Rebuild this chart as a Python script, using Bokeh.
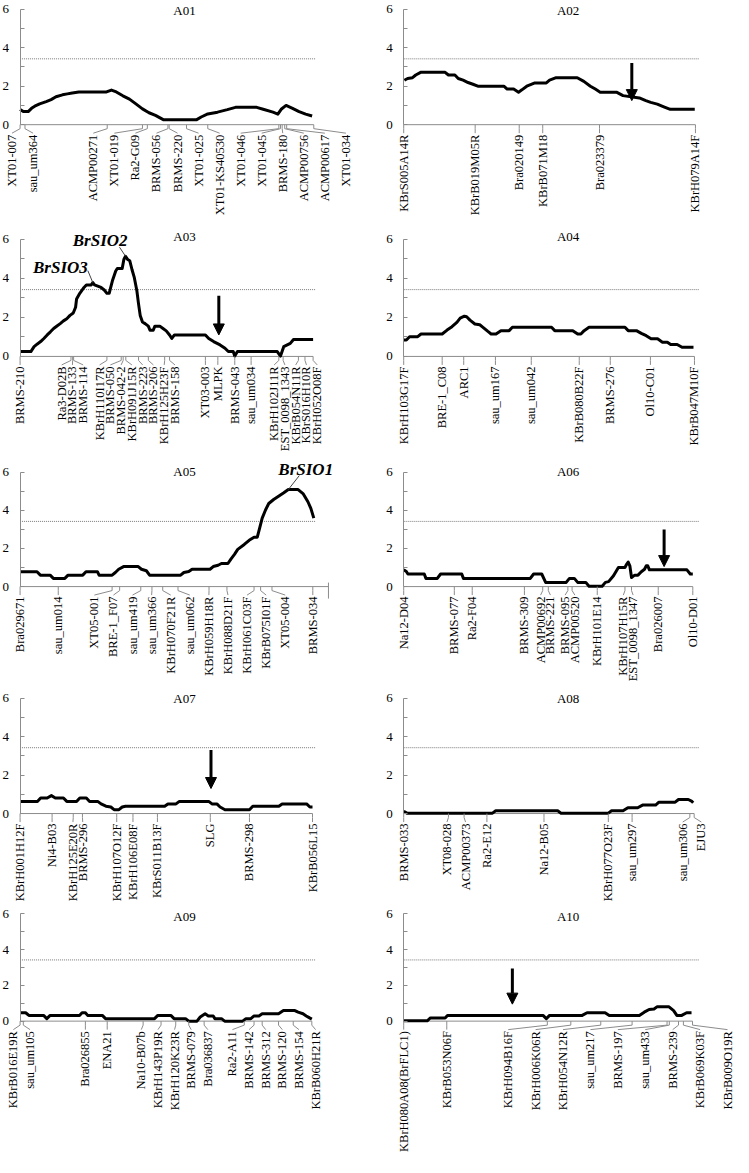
import math
import numpy as np
from bokeh.plotting import figure
from bokeh.layouts import gridplot
from bokeh.models import Range1d, LinearAxis, FixedTicker, Label, Arrow, NormalHead
from bokeh.core.properties import value
from bokeh.embed import file_html
from bokeh.resources import INLINE

# ---------------- data (positions in cM along each linkage group, LOD values) ----------------
chroms = ["A01", "A02", "A03", "A04", "A05", "A06", "A07", "A08", "A09", "A10"]
chr_len = [300, 298, 299.3, 297, 315, 295.3, 298.7, 296.7, 298, 295]
threshold = 3.42
threshold_end = 302

a01_pos = [0, 3.3, 8.3, 11.7, 15, 20, 26.7, 31.7, 36.7, 43.3, 48.3, 53.3, 60, 88.3, 93.3, 98.3, 105, 111.7, 118.3, 125,
           131.7, 138.3, 146.7, 180, 185, 191.7, 201.7, 211.7, 220, 241.7, 248.3, 258.3, 263.3, 266.7, 271.7, 278.3, 285,
           291.7, 298.3]
a01_lod = [0.79, 0.68, 0.68, 0.85, 0.96, 1.08, 1.2, 1.3, 1.45, 1.55, 1.6, 1.65, 1.7, 1.7, 1.8, 1.7, 1.5, 1.33, 1.08, 0.82,
           0.62, 0.48, 0.25, 0.25, 0.4, 0.56, 0.65, 0.78, 0.9, 0.9, 0.8, 0.65, 0.55, 0.8, 1.0, 0.85, 0.68,
           0.55, 0.45]
a01_markers = ["XT01-007", "sau_um364", "ACMP00271", "XT01-019", "Ra2-G09", "BRMS-056", "BRMS-220", "XT01-025",
               "XT01-KS40530", "XT01-046", "XT01-045", "BRMS-180", "ACMP00756", "ACMP00617", "XT01-034"]
a01_mpos = [0, 5, 89, 125, 130, 151, 152.3, 170, 191.7, 264.3, 266, 267.7, 270.3, 272.3, 300]

a02_pos = [0.7, 4, 9, 12.3, 17.3, 42.3, 45.7, 52.3, 55.7, 60.7, 65.7, 70.7, 75.7, 102.3, 105.7, 112.3, 117.3, 120.7,
           125.7, 134, 145.7, 149, 155.7, 177.3, 184, 190.7, 195.7, 200.7, 217.3, 224, 240.7, 247.3, 252.3, 259, 265.7,
           272.3, 297.3]
a02_lod = [2.31, 2.4, 2.44, 2.58, 2.72, 2.72, 2.58, 2.58, 2.4, 2.31, 2.19, 2.1, 2.0, 2.0, 1.85, 1.85, 1.69, 1.81,
           2.0, 2.17, 2.17, 2.31, 2.44, 2.44, 2.25, 2.0, 1.85, 1.69, 1.69, 1.51, 1.39, 1.25, 1.16, 1.07, 0.93,
           0.8, 0.8]
a02_markers = ["KBrS005A14R", "KBrB019M05R", "Bra020149", "KBrB071M18", "Bra023379", "KBrH079A14F"]
a02_mpos = [0, 73, 118, 142, 200, 298]

a03_pos = [0, 11, 14.3, 17.7, 21, 24.3, 27.7, 31, 34.3, 37.7, 41, 44.3, 47.7, 51, 54.3, 56.7, 57.7, 61, 65.3, 67.7,
           72.7, 74.3, 76, 82.7, 86, 88.7, 91, 94.3, 97.7, 99.3, 104.3, 106, 107.7, 110, 112, 114.3, 116.7, 119.3,
           121, 122.7, 125, 127.7, 131, 132.7, 136, 137.7, 142.7, 146, 149.3, 152.7, 155, 157.7, 189.3, 192.7, 197.7,
           204.3, 209.3, 212.7, 217.7, 219.3, 222, 262.7, 266, 269.3, 276, 279.3, 299.3]
a03_lod = [0.25, 0.25, 0.5, 0.64, 0.76, 0.92, 1.1, 1.26, 1.43, 1.56, 1.68, 1.82, 1.93, 2.1, 2.22, 2.52, 2.94, 3.23, 3.53,
           3.66, 3.66, 3.78, 3.66, 3.53, 3.4, 3.23, 3.23, 3.87, 4.37, 4.5, 4.5, 4.96, 5.13, 4.96, 4.9, 4.45, 4.03, 3.36,
           2.69, 2.1, 1.76, 1.68, 1.55, 1.34, 1.34, 1.55, 1.55, 1.43, 1.31, 1.1, 0.92, 1.1, 1.1, 0.92, 0.76,
           0.59, 0.42, 0.25, 0.25, 0.02, 0.25, 0.25, 0.02, 0.5, 0.67, 0.87, 0.87]
a03_markers = ["BRMS-210", "Ra3-D02B", "BRMS-133", "BRMS-114", "KBrH110I17R", "BRMS-050", "BRMS-042-2",
               "KBrH091J15R", "BRMS-223", "BRMS-206", "KBrH125H23F", "BRMS-158", "XT03-003", "MLPK", "BRMS-043",
               "sau_um034", "KBrH102J11R", "EST_0098_1343", "KBrB054N11R", "KBrS016H10R", "KBrH052O08F"]
a03_mpos = [0, 52, 53.7, 54.7, 88.7, 103.3, 105.3, 108, 121, 131, 147.7, 152.7, 189.3, 202, 219.3, 236, 264.3, 268.7,
            284.3, 291, 299.3]

a04_pos = [0, 2.7, 6, 14.3, 17.7, 39.3, 44.3, 49.3, 54.3, 57.7, 62, 64.3, 67.7, 72.7, 77.7, 81, 86, 89.3, 94.3, 99.3,
           107.7, 111, 151, 154.3, 172.7, 177.7, 181, 184.3, 189.3, 226, 229.3, 237.7, 242.7, 247.7, 252.7, 259.3,
           264.3, 269.3, 272.7, 279.3, 284.3, 296]
a04_lod = [0.84, 0.84, 1.01, 1.01, 1.15, 1.15, 1.35, 1.52, 1.74, 1.96, 2.06, 2.03, 1.86, 1.66, 1.62, 1.49, 1.28, 1.15,
           1.15, 1.32, 1.32, 1.49, 1.49, 1.32, 1.32, 1.15, 1.15, 1.32, 1.49, 1.49, 1.32, 1.32, 1.18, 1.06, 0.9, 0.9,
           0.73, 0.73, 0.61, 0.61, 0.47, 0.47]
a04_markers = ["KBrH103G17F", "BRE-1_C08", "ARC1", "sau_um167", "sau_um042", "KBrB080B22F", "BRMS-276", "Ol10-C01",
               "KBrB047M10F"]
a04_mpos = [0, 39.3, 61.3, 93.7, 130.3, 179.3, 211, 252, 297]

a05_pos = [0, 17.3, 20.7, 30.7, 34, 45.7, 49, 64, 67.3, 79, 80.7, 94, 97.3, 100.7, 105.7, 120.7, 124, 129, 132.3, 164,
           167.3, 172.3, 175.7, 194, 197.3, 202.3, 205.7, 212.3, 215.7, 219, 222.3, 229, 234, 239, 242.3, 244.7,
           247.3, 250.7, 254, 259, 264, 269, 274, 284, 289, 294, 297, 300]
a05_lod = [0.78, 0.78, 0.6, 0.6, 0.43, 0.43, 0.6, 0.6, 0.78, 0.78, 0.6, 0.6, 0.74, 0.91, 1.05, 1.05, 0.91, 0.83, 0.6, 0.6,
           0.74, 0.79, 0.91, 0.91, 1.05, 1.12, 1.21, 1.21, 1.47, 1.69, 1.95, 2.21, 2.43, 2.59, 2.59, 3.07,
           3.59, 4.02, 4.36, 4.57, 4.74, 4.91, 5.09, 5.09, 4.88, 4.45, 4.1, 3.59]
a05_markers = ["Bra029671", "sau_um014", "XT05-001", "BRE-1_F07", "sau_um419", "sau_um366", "KBrH070F21R",
               "sau_um062", "KBrH059H18R", "KBrH088D21F", "KBrH061C03F", "KBrB075I01F", "XT05-004", "BRMS-034"]
a05_mpos = [0, 39, 94, 101.7, 123.3, 134.7, 145.7, 161.3, 193, 211.3, 239, 245.7, 257.3, 299]

a06_pos = [0, 2.7, 4.3, 21, 22.7, 34.3, 37.7, 59.3, 61, 129.3, 132.7, 141, 145, 166, 169.3, 174.3, 177.7, 186, 189.3,
           202.7, 206, 209.3, 214.3, 219.3, 226, 227.7, 229.3, 231, 232.7, 236, 239.3, 242.7, 246, 247.7, 249.3, 251,
           289.3, 292.7, 295.3]
a06_lod = [0.88, 0.79, 0.66, 0.66, 0.43, 0.43, 0.66, 0.66, 0.43, 0.43, 0.66, 0.66, 0.22, 0.22, 0.43, 0.43, 0.22, 0.22,
           0.02, 0.02, 0.22, 0.26, 0.57, 1.0, 1.0, 1.17, 1.29, 1.09, 0.48, 0.6, 0.6, 0.78, 0.91, 1.09, 1.09, 0.88,
           0.88, 0.66, 0.66]
a06_markers = ["Na12-D04", "BRMS-077", "Ra2-F04", "BRMS-309", "ACMP00692", "BRMS-221", "BRMS-095", "ACMP00520",
               "KBrH101E14", "KBrH107H15R", "EST_0098_1347", "Bra026007", "Ol10-D01"]
a06_mpos = [0, 51.7, 70, 123.3, 142, 147.7, 167.7, 172, 197.7, 226, 232.7, 260, 295.3]

a07_pos = [0, 17.7, 21, 27.7, 32, 36, 44.3, 47.7, 57.7, 61, 67.7, 71, 79.3, 82.7, 87.7, 92.7, 96, 101, 104.3, 107.7,
           147.7, 151, 159.3, 162.7, 192.7, 196, 201, 204.3, 209.3, 234.3, 237.7, 264.3, 267.7, 292.7, 296, 298.7]
a07_lod = [0.63, 0.63, 0.81, 0.81, 0.93, 0.81, 0.81, 0.63, 0.63, 0.81, 0.81, 0.63, 0.63, 0.5, 0.38, 0.34, 0.2, 0.2,
           0.34, 0.38, 0.38, 0.5, 0.5, 0.63, 0.63, 0.5, 0.5, 0.34, 0.2, 0.2, 0.38, 0.38, 0.5, 0.5, 0.34, 0.34]
a07_markers = ["KBrH001H12F", "Ni4-B03", "KBrH125E20R", "BRMS-296", "KBrH107O12F", "KBrH106E08F", "KBrS011B13F",
               "SLG", "BRMS-298", "KBrB056L15"]
a07_mpos = [0, 32.7, 54.3, 63.7, 98.7, 115.3, 140.3, 194.3, 234.3, 298.7]

a08_pos = [0, 3.3, 90.7, 94, 157.3, 160.7, 209, 212.3, 224, 229, 239, 244, 257.3, 260.7, 277.3, 280.7, 290.7, 294,
           295.7]
a08_lod = [0.12, 0.02, 0.02, 0.14, 0.14, 0.02, 0.02, 0.14, 0.14, 0.3, 0.3, 0.44, 0.44, 0.59, 0.59, 0.73, 0.73, 0.65,
           0.56]
a08_markers = ["BRMS-033", "XT08-028", "ACMP00373", "Ra2-E12", "Na12-B05", "KBrH077O23F", "sau_um297", "sau_um306",
               "EJU3"]
a08_mpos = [0, 45.7, 61.7, 85, 143.3, 209, 233.3, 292.3, 296.7]

a09_pos = [0, 5.7, 9, 24, 27.3, 30.7, 60.7, 63.3, 66.7, 69, 84, 87.3, 137.3, 140.7, 154, 157.3, 169, 172.3, 180.7,
           184, 189, 192.3, 197.3, 199, 205.7, 209, 227.3, 230.7, 235.7, 239, 244, 247.3, 264, 269, 280.7, 284, 289,
           292.3, 295.7, 298]
a09_lod = [0.47, 0.47, 0.32, 0.32, 0.14, 0.32, 0.32, 0.47, 0.47, 0.32, 0.32, 0.14, 0.14, 0.32, 0.32, 0.14, 0.14, 0.0,
           0.0, 0.23, 0.41, 0.29, 0.29, 0.14, 0.14, 0.0, 0.0, 0.14, 0.14, 0.29, 0.29, 0.41, 0.41, 0.59, 0.59, 0.5,
           0.41, 0.29, 0.18, 0.11]
a09_markers = ["KBrB016E19R", "sau_um105", "Bra026855", "ENA21", "Na10-B07b", "KBrH143P19R", "KBrH120K23R",
               "BRMS-079", "Bra036837", "Ra2-A11", "BRMS-142", "BRMS-312", "BRMS-120", "BRMS-154", "KBrB060H21R"]
a09_mpos = [0, 3.3, 66.7, 89, 125.7, 144, 159, 172.3, 188, 229, 239, 247.3, 264, 279, 298]

a10_pos = [0, 24, 27.3, 42.3, 44.7, 142.3, 145.7, 149, 182.3, 187.3, 205.7, 210, 240.7, 245.7, 250.7, 255.7, 259,
           270.7, 275.7, 279, 284, 289, 294]
a10_lod = [0.02, 0.02, 0.18, 0.18, 0.32, 0.32, 0.14, 0.32, 0.32, 0.47, 0.47, 0.32, 0.32, 0.5, 0.65, 0.68, 0.81, 0.81,
           0.59, 0.32, 0.32, 0.47, 0.47]
a10_markers = ["KBrH080A08(BrFLC1)", "KBrB053N06F", "KBrH094B16F", "KBrH006K06R", "KBrH054N12R", "sau_um217",
               "BRMS-197", "sau_um433", "BRMS-239", "KBrB069K03F", "KBrB009O19R"]
a10_mpos = [0, 44, 146.7, 170.7, 201.3, 233.3, 269, 271.3, 280.7, 285.7, 295]

# candidate genes at LOD peaks
gene_chr = ["A03", "A03", "A05"]
gene_name = ["BrSIO3", "BrSIO2", "BrSIO1"]
gene_pos = [74.3, 107.7, 274]

# arrows (candidate positions)
arrow_chr = ["A02", "A03", "A06", "A07", "A10"]
arrow_pos = [233, 203, 266, 195, 111]
arrow_top = [3.2, 3.1, 3.0, 3.3, 2.94]
arrow_tip = [1.25, 1.1, 1.05, 1.3, 0.95]

curves = {
    "A01": (a01_pos, a01_lod, a01_markers, a01_mpos),
    "A02": (a02_pos, a02_lod, a02_markers, a02_mpos),
    "A03": (a03_pos, a03_lod, a03_markers, a03_mpos),
    "A04": (a04_pos, a04_lod, a04_markers, a04_mpos),
    "A05": (a05_pos, a05_lod, a05_markers, a05_mpos),
    "A06": (a06_pos, a06_lod, a06_markers, a06_mpos),
    "A07": (a07_pos, a07_lod, a07_markers, a07_mpos),
    "A08": (a08_pos, a08_lod, a08_markers, a08_mpos),
    "A09": (a09_pos, a09_lod, a09_markers, a09_mpos),
    "A10": (a10_pos, a10_lod, a10_markers, a10_mpos),
}

# ---------------- layout / style ----------------
SERIF = "Liberation Serif"
GRAY = "#8c8c8c"
COL_W = [366, 367]
COL_XMIN = [-20, -38]
PX_PER_CM = 0.979
ROW_H = [227, 227, 231, 222, 250]
ROW_Y = [(-5.34, 6.45), (-5.02, 6.6), (-5.19, 6.93), (-4.88, 6.65), (-7.62, 6.35)]
TITLE_Y = [5.95, 6.15, 6.05, 6.0, 5.86]
LABEL_GAP = {"A01": 21.5, "A02": 10, "A03": 11, "A04": 10, "A05": 19.5, "A06": 10, "A07": 10, "A08": 19,
             "A09": 17, "A10": 28}
GENE_STYLE = {
    "BrSIO3": dict(align="right", tx=-5, ty=15, lx=-5, ly=12),
    "BrSIO2": dict(align="right", tx=2, ty=16, lx=-6, ly=9),
    "BrSIO1": dict(align="left", tx=-10, ty=20, lx=11, ly=14),
}


def spread(ms, gap, lo, hi):
    """Least-squares label positions with a minimum spacing (pool-adjacent-violators)."""
    n = len(ms)
    blocks = []
    for i, m in enumerate(ms):
        blocks.append([m - i * gap, 1])
        while len(blocks) > 1 and blocks[-2][0] / blocks[-2][1] > blocks[-1][0] / blocks[-1][1]:
            s, c = blocks.pop()
            blocks[-1][0] += s
            blocks[-1][1] += c
    z = []
    for s, c in blocks:
        z += [s / c] * c
    ls = [z[i] + i * gap for i in range(n)]
    if ls[-1] > hi:
        ls[-1] = hi
        for i in range(n - 2, -1, -1):
            ls[i] = min(ls[i], ls[i + 1] - gap)
    if ls[0] < lo:
        ls[0] = lo
        for i in range(1, n):
            ls[i] = max(ls[i], ls[i - 1] + gap)
    return ls


figs = []
for k, ch in enumerate(chroms):
    r, c = divmod(k, 2)
    W, H = COL_W[c], ROW_H[r]
    x0 = COL_XMIN[c]
    x1 = x0 + W / PX_PER_CM
    y0, y1 = ROW_Y[r]
    ux = (x1 - x0) / W
    uy = (y1 - y0) / H
    pos, lod, names, mpos = curves[ch]
    L = chr_len[k]

    p = figure(width=W, height=H, x_range=Range1d(x0, x1), y_range=Range1d(y0, y1),
               x_axis_type=None, y_axis_type=None, toolbar_location=None, output_backend="svg",
               min_border=0, outline_line_color=None)

    yax = LinearAxis(fixed_location=0, bounds=(0, 6),
                     ticker=FixedTicker(ticks=[0, 2, 4, 6], minor_ticks=[1, 3, 5]),
                     axis_line_color=GRAY, major_tick_line_color=GRAY, minor_tick_line_color=GRAY,
                     major_tick_in=4, major_tick_out=0, minor_tick_in=4, minor_tick_out=0,
                     major_label_standoff=11, major_label_text_font=SERIF,
                     major_label_text_font_size="13px", major_label_text_color="black")
    p.add_layout(yax, "left")

    # linkage-group axis
    p.line([0, L], [0, 0], color=GRAY, line_width=1)
    if L > mpos[-1] + 1:
        p.segment(x0=[L], y0=[4 * uy], x1=[L], y1=[-12 * uy], color=GRAY, line_width=1)

    # threshold
    p.line([0, threshold_end], [threshold, threshold], color="#7a7a7a", line_width=1, line_dash="1 1")

    # LOD curve
    p.line(pos, lod, color="black", line_width=3, line_join="round")

    # markers
    n = len(names)
    ls = spread(mpos, LABEL_GAP[ch], x0 + 6 * ux, x1 - 6 * ux)
    ty, ly, txty = -4 * uy, -8.5 * uy, -10 * uy
    p.segment(x0=mpos, y0=[0] * n, x1=mpos, y1=[ty] * n, color=GRAY, line_width=1)
    p.segment(x0=mpos, y0=[ty] * n, x1=ls, y1=[ly] * n, color=GRAY, line_width=1)
    p.text(x=ls, y=[txty] * n, text=names, angle=math.pi / 2, text_align="right",
           text_baseline="middle", text_font=value(SERIF), text_font_size="12.5px", text_color="black")

    # title
    p.add_layout(Label(x=168, y=TITLE_Y[r], text=ch, text_align="center", text_baseline="middle",
                       text_font=SERIF, text_font_size="13px", text_color="black"))

    # genes
    for gc, gn, gx in zip(gene_chr, gene_name, gene_pos):
        if gc != ch:
            continue
        st = GENE_STYLE[gn]
        pk = float(np.interp(gx, pos, lod))
        p.line([gx + st["lx"] * ux, gx], [pk + st["ly"] * uy, pk], color="#444444", line_width=1)
        p.add_layout(Label(x=gx + st["tx"] * ux, y=pk + st["ty"] * uy, text=gn, text_align=st["align"],
                           text_baseline="middle", text_font=SERIF, text_font_style="bold italic",
                           text_font_size="17px", text_color="black"))

    # arrows
    for ac, ax_, at, ab in zip(arrow_chr, arrow_pos, arrow_top, arrow_tip):
        if ac != ch:
            continue
        p.add_layout(Arrow(end=NormalHead(size=11, fill_color="black", line_color="black", line_width=1),
                           x_start=ax_, y_start=at, x_end=ax_, y_end=ab, line_color="black", line_width=3))
    figs.append(p)

grid = gridplot([[figs[i], figs[i + 1]] for i in range(0, 10, 2)], toolbar_location=None)

open("out.html", "w").write(file_html(grid, INLINE))
